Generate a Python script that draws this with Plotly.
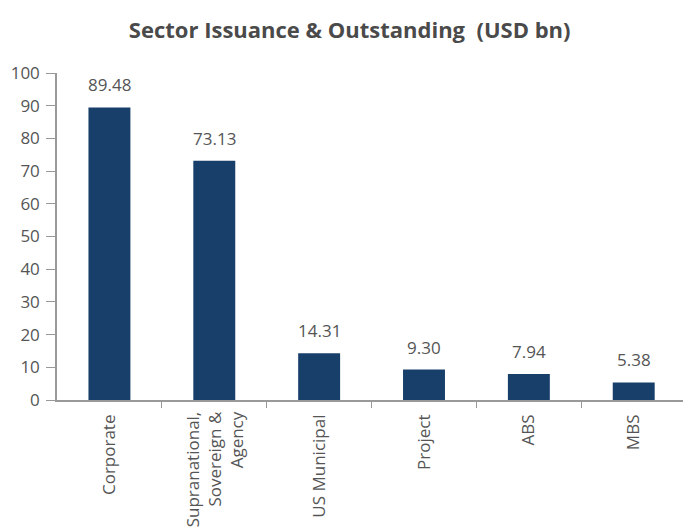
import plotly.graph_objects as go

categories = ["Corporate", "Supranational,<br>Sovereign &<br>Agency", "US Municipal", "Project", "ABS", "MBS"]
values = [89.48, 73.13, 14.31, 9.30, 7.94, 5.38]
value_labels = ["89.48", "73.13", "14.31", "9.30", "7.94", "5.38"]
y_ticks = [0, 10, 20, 30, 40, 50, 60, 70, 80, 90, 100]

xs = list(range(len(categories)))
fig = go.Figure(go.Bar(
    x=xs,
    y=values,
    marker=dict(color="#173f6a", line=dict(width=0)),
    width=0.4,
))

for xi, v, lab in zip(xs, values, value_labels):
    fig.add_annotation(x=xi, y=v, text=lab, showarrow=False, yanchor="bottom",
                       yshift=9, font=dict(size=17, color="#555555", family="Open Sans"))

# multi-line category labels: right-aligned lines (ends next to the axis)
tick_text = []
for xi, c in zip(xs, categories):
    if "<br>" in c:
        tick_text.append("")
        fig.add_annotation(x=xi, xref="x", y=0, yref="paper", text=c, showarrow=False,
                           textangle=-90, align="right", yanchor="top", xanchor="center",
                           yshift=-9, font=dict(size=17, color="#555555", family="Open Sans"))
    else:
        tick_text.append(c)

fig.update_layout(
    width=683, height=529,
    margin=dict(l=57, r=0, t=73, b=129),
    paper_bgcolor="white", plot_bgcolor="white",
    font=dict(family="Open Sans", color="#555555"),
    title=dict(text="<b>Sector Issuance & Outstanding  (USD bn)</b>", x=0.512, xanchor="center",
               y=0.942, yanchor="middle", font=dict(size=22, color="#4a4a4a", family="Open Sans")),
    showlegend=False,
)
fig.update_xaxes(
    tickmode="array", tickvals=xs, ticktext=tick_text,
    range=[-0.5, 5.47], tickangle=-90, tickfont=dict(size=17, color="#555555"),
    ticklabelstandoff=6,
    showline=True, linecolor="#999999", linewidth=1.5, ticks="", showgrid=False, zeroline=False,
    minor=dict(tickvals=[0.5, 1.5, 2.5, 3.5, 4.5], ticks="outside", ticklen=6, tickcolor="#999999"),
)
fig.update_yaxes(
    range=[0, 100], tickvals=y_ticks, tickfont=dict(size=17, color="#555555"),
    showline=True, linecolor="#999999", linewidth=1.5, ticks="outside", ticklen=9,
    ticklabelstandoff=3,
    tickcolor="#999999", showgrid=False, zeroline=False,
)
fig.write_html("out.html")
